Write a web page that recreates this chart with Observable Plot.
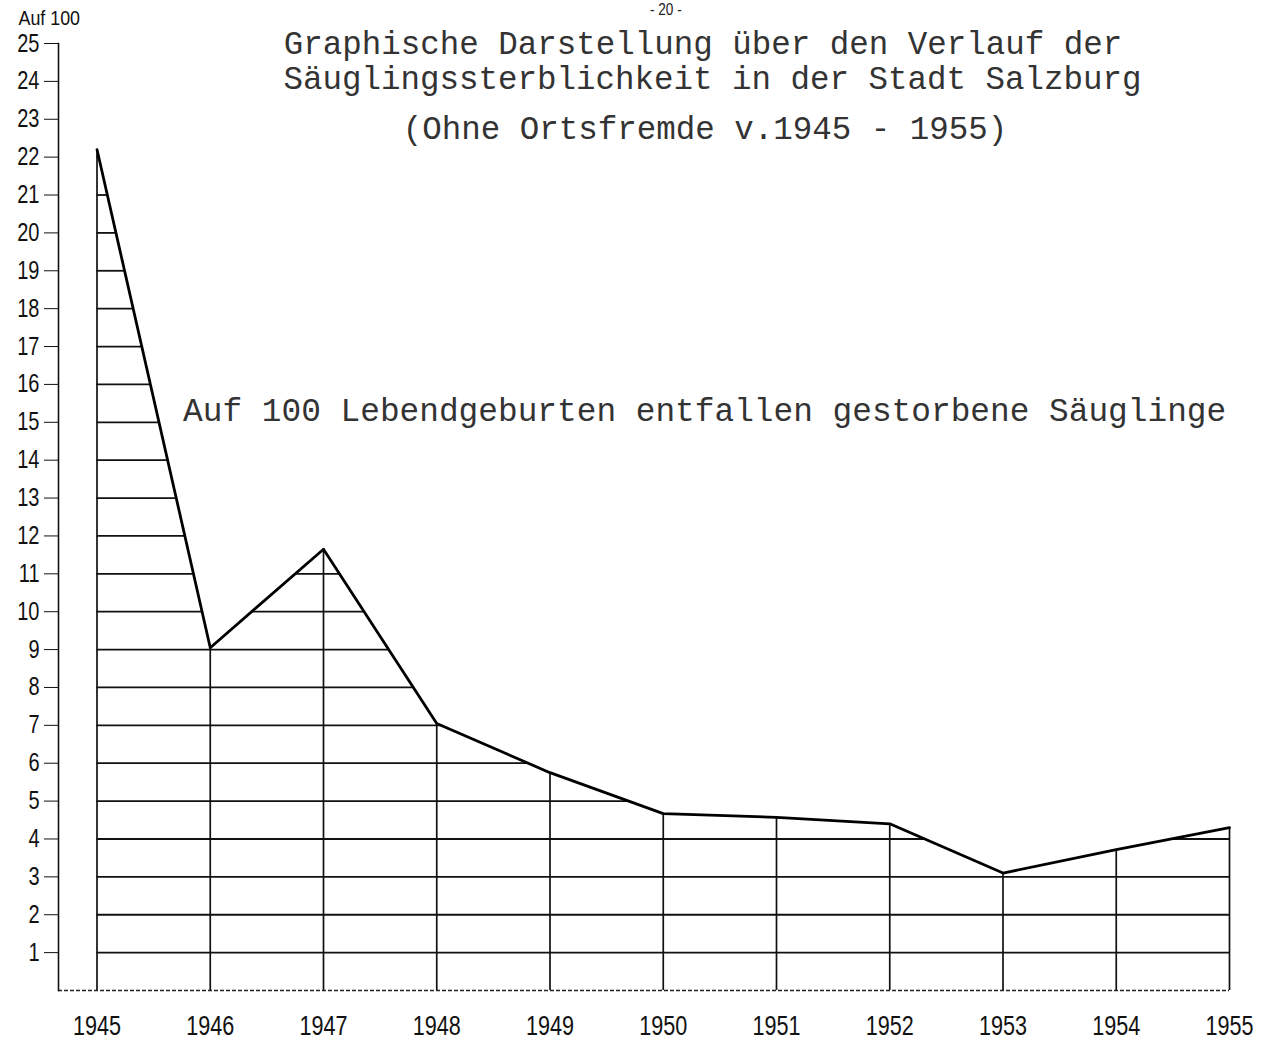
<!DOCTYPE html>
<html>
<head>
<meta charset="utf-8">
<script src="https://cdn.jsdelivr.net/npm/d3@7"></script>
<script src="https://cdn.jsdelivr.net/npm/@observablehq/plot@0.6"></script>
<style>
  html, body { margin: 0; padding: 0; background: #fff; }
  #wrap { position: relative; width: 1269px; height: 1044px; overflow: hidden; }
  #chart { position: absolute; left: 0; top: 0; }
  .mono { position: absolute; font-family: "Liberation Mono", "DejaVu Sans Mono", monospace; color: #333; white-space: nowrap; }
  .narrow { position: absolute; font-family: "Liberation Sans", sans-serif; color: #222; white-space: nowrap; }
</style>
</head>
<body>
<div id="wrap">
  <div id="chart"></div>
  <div class="narrow" style="left:650px; top:1px; font-size:17px; line-height:18px; transform:scaleX(0.8); transform-origin:left;">- 20 -</div>
  <div class="mono" style="left:0; width:1406px; text-align:center; top:28px; font-size:32.5px; line-height:36px;">Graphische Darstellung über den Verlauf der</div>
  <div class="mono" style="left:0; width:1425px; text-align:center; top:63px; font-size:32.5px; line-height:36px;">Säuglingssterblichkeit in der Stadt Salzburg</div>
  <div class="mono" style="left:0; width:1410px; text-align:center; top:113px; font-size:32.5px; line-height:36px;">(Ohne Ortsfremde v.1945 - 1955)</div>
</div>
<script>
const years = [1945, 1946, 1947, 1948, 1949, 1950, 1951, 1952, 1953, 1954, 1955];
const rates = [22.2, 9.05, 11.65, 7.05, 5.75, 4.67, 4.57, 4.4, 3.1, 3.72, 4.3];
const yTickValues = d3.range(1, 26);
const yAxisLabel = "Auf 100";
const annotation = "Auf 100 Lebendgeburten entfallen gestorbene Säuglinge";

const data = years.map((year, i) => ({year, rate: rates[i]}));

// horizontal hatching: each whole number, kept to the part under the curve
const hatch = [];
for (let k = 1; k <= Math.floor(d3.max(rates)); k++) {
  let cur = null;
  for (let i = 0; i < years.length - 1; i++) {
    const x0 = years[i], x1 = years[i + 1], a = rates[i], b = rates[i + 1];
    let s = null, e = null;
    if (a >= k && b >= k) { s = x0; e = x1; }
    else if (a >= k) { s = x0; e = x0 + (a - k) / (a - b) * (x1 - x0); }
    else if (b >= k) { s = x0 + (k - a) / (b - a) * (x1 - x0); e = x1; }
    if (s === null) continue;
    if (cur && Math.abs(cur.x2 - s) < 1e-9) cur.x2 = e;
    else { cur = {k, x1: s, x2: e}; hatch.push(cur); }
  }
}

const tickFont = '"Liberation Sans", Arial, sans-serif';

const chart = Plot.plot({
  width: 1269,
  height: 1044,
  marginLeft: 58,
  marginRight: 40,
  marginTop: 43,
  marginBottom: 54,
  style: {fontFamily: tickFont, fontSize: "25px", color: "#111", background: "transparent"},
  x: {domain: [1944.66, 1955], ticks: years, tickFormat: d => String(d)},
  y: {domain: [0, 25]},
  marks: [
    Plot.ruleY(hatch, {y: "k", x1: "x1", x2: "x2", stroke: "#111", strokeWidth: 1.8}),
    Plot.ruleX(data, {x: "year", y1: 0, y2: "rate", stroke: "#111", strokeWidth: 1.7}),
    Plot.ruleY([0], {stroke: "#222", strokeWidth: 1.6, strokeDasharray: "4,2"}),
    Plot.frame({anchor: "left", stroke: "#111", strokeWidth: 1.6}),
    Plot.line(data, {x: "year", y: "rate", stroke: "#000", strokeWidth: 2.8}),
    Plot.axisX({ticks: years, tickSize: 0, tickPadding: 25, fontSize: 27, tickFormat: d => String(d), className: "xticks"}),
    Plot.axisY({ticks: yTickValues, tickSize: 14, tickPadding: 5, label: null, fontSize: 25, className: "yticks"}),
    Plot.text([yAxisLabel], {frameAnchor: "top-left", dx: -40, dy: -25, textAnchor: "start", lineAnchor: "middle", fontSize: 21, fill: "#111", className: "ylabel"}),
    Plot.text([annotation], {x: 1945.76, y: 15.3, text: d => d, textAnchor: "start", fontFamily: '"Liberation Mono", "DejaVu Sans Mono", monospace', fontSize: 32.8, fill: "#333"})
  ]
});
document.getElementById("chart").appendChild(chart);

// condense the tick label glyphs like the narrow plotter lettering
d3.select(chart).selectAll(".xticks text, .yticks text").each(function () {
  const len = this.getComputedTextLength();
  if (len > 0) {
    d3.select(this).attr("textLength", len * 0.8).attr("lengthAdjust", "spacingAndGlyphs");
  }
});
d3.select(chart).selectAll(".ylabel text").each(function () {
  const len = this.getComputedTextLength();
  if (len > 0) {
    d3.select(this).attr("textLength", len * 0.85).attr("lengthAdjust", "spacingAndGlyphs");
  }
});
</script>
</body>
</html>
